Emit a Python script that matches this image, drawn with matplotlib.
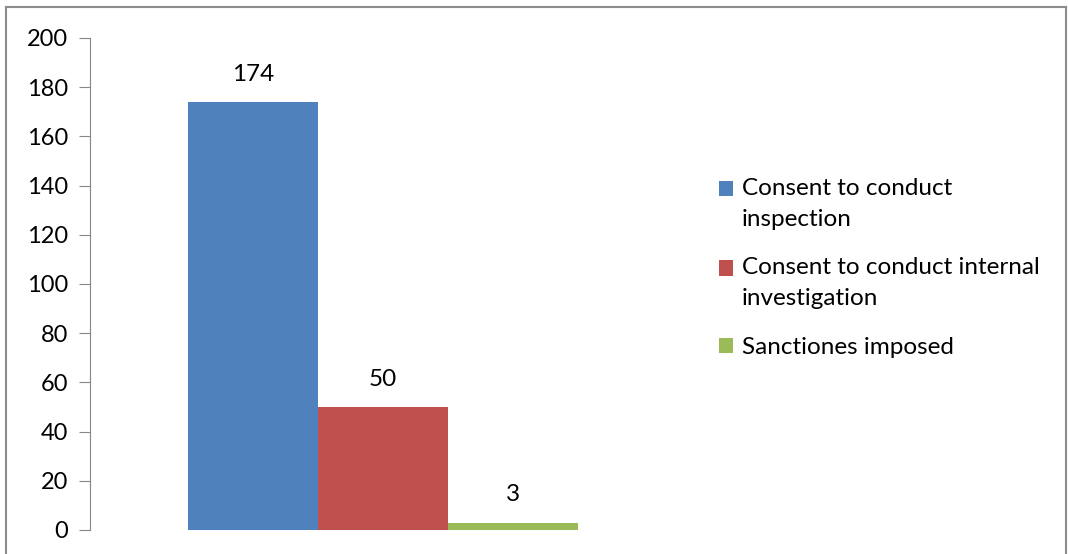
import numpy as np
import matplotlib
matplotlib.use("Agg")
import matplotlib.pyplot as plt
import matplotlib.patches as mpatches
from matplotlib.lines import Line2D
from matplotlib.legend_handler import HandlerPatch

plt.rcParams.update({"font.family": ["Lato", "DejaVu Sans"], "font.size": 17})

SERIES = ["Consent to conduct\ninspection",
          "Consent to conduct internal\ninvestigation",
          "Sanctiones imposed"]
VALUES = [174, 50, 3]
COLORS = ["#4f81bd", "#c0504d", "#9bbb59"]
YTICKS = [0, 20, 40, 60, 80, 100, 120, 140, 160, 180, 200]

W, H = 1068, 554
fig = plt.figure(figsize=(W / 100, H / 100), dpi=100)
ax = fig.add_axes([90 / W, 1 - 530 / H, (676 - 90) / W, (530 - 38) / H])

w = 1 / 4.5
x = (np.arange(3) - 1) * w
bars = []
for xi, v, c, lab in zip(x, VALUES, COLORS, SERIES):
    bc = ax.bar(xi, v, w, color=c, label=lab, linewidth=0)
    bars.append(bc.patches[0])
    ax.text(xi, v + 7, str(v), ha="center", va="bottom", fontsize=17.5)

ax.set_xlim(-0.5, 0.5)
ax.set_ylim(0, 200)
ax.set_yticks(YTICKS)
ax.set_xticks([])
for s in ["top", "right", "bottom"]:
    ax.spines[s].set_visible(False)
ax.spines["left"].set_color("#868686")
ax.tick_params(axis="y", direction="out", length=8, color="#868686", pad=8)


# Excel puts the legend key next to the first line of a wrapped entry
def top_key(shift):
    def f(legend, orig_handle, xdescent, ydescent, width, height, fontsize):
        return mpatches.Rectangle((-xdescent, -ydescent + shift * fontsize), width, height)
    return f


hmap = {b: HandlerPatch(patch_func=top_key(0.62 if "\n" in lab else 0.0))
        for b, lab in zip(bars, SERIES)}
leg = ax.legend(bars, SERIES, handler_map=hmap,
                loc="center left", bbox_to_anchor=(697 / W, 1 - 268 / H),
                bbox_transform=fig.transFigure, frameon=False,
                handlelength=0.6, handleheight=0.6, handletextpad=0.35,
                labelspacing=1.15, fontsize=17.5)
for t in leg.get_texts():
    t.set_linespacing(1.55)

# outer chart border
c = "#8c8c8c"
fig.add_artist(Line2D([6 / W, 6 / W], [0, 1 - 7 / H], color=c, lw=1.5))
fig.add_artist(Line2D([6 / W, 1066 / W], [1 - 7 / H, 1 - 7 / H], color=c, lw=1.5))
fig.add_artist(Line2D([1066 / W, 1066 / W], [0, 1 - 7 / H], color=c, lw=1.5))

fig.savefig("out.png", dpi=100)
